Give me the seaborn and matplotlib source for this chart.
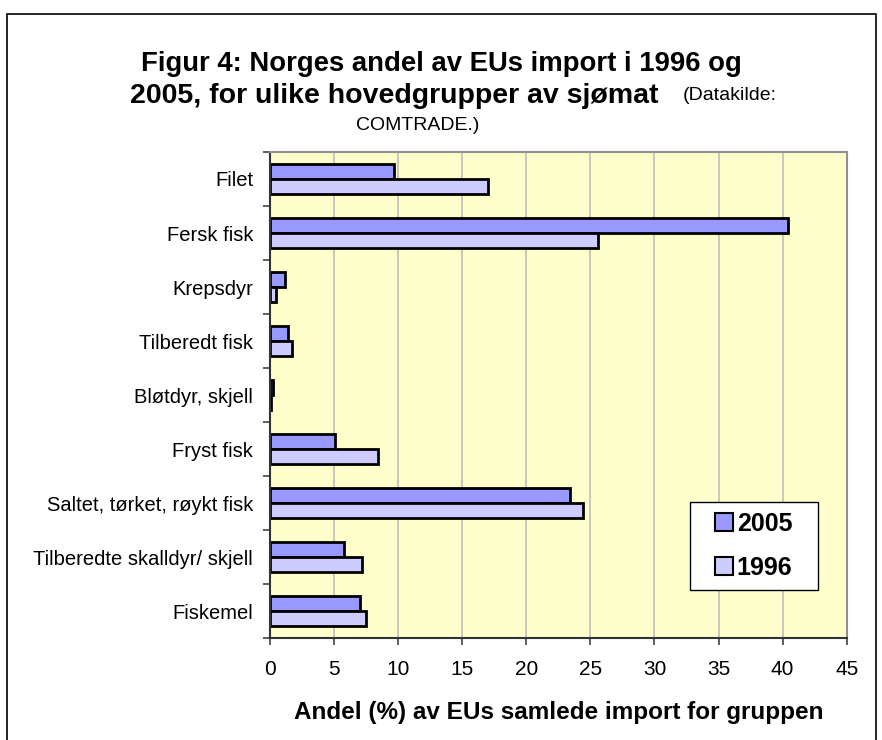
import pandas as pd
import numpy as np
import matplotlib
matplotlib.use("Agg")
import matplotlib.pyplot as plt
import seaborn as sns
from matplotlib.patches import Rectangle

# data
kategorier = ["Filet", "Fersk fisk", "Krepsdyr", "Tilberedt fisk", "Bløtdyr, skjell",
              "Fryst fisk", "Saltet, tørket, røykt fisk", "Tilberedte skalldyr/ skjell", "Fiskemel"]
andel_2005 = [9.7, 40.4, 1.2, 1.4, 0.25, 5.1, 23.4, 5.75, 7.0]
andel_1996 = [17.0, 25.6, 0.5, 1.7, 0.05, 8.4, 24.4, 7.15, 7.5]
aar = ["2005", "1996"]
farger = {"2005": "#9999FF", "1996": "#CCCCFF"}
xticks = list(range(0, 50, 5))

df = pd.DataFrame({
    "kategori": kategorier * 2,
    "andel": andel_2005 + andel_1996,
    "aar": ["2005"] * len(kategorier) + ["1996"] * len(kategorier),
})

sns.set_theme(style="white")
plt.rcParams['font.family'] = ['Liberation Sans', 'DejaVu Sans']
plt.rcParams['text.color'] = 'black'
plt.rcParams['xtick.color'] = 'black'
plt.rcParams['ytick.color'] = 'black'
plt.rcParams['axes.labelcolor'] = 'black'

fig = plt.figure(figsize=(8.82, 7.4), dpi=100)
ax = fig.add_axes([0.306, 0.1378, 0.654, 0.6568])

sns.barplot(data=df, x="andel", y="kategori", hue="aar", hue_order=aar,
            order=kategorier, palette=farger, orient="h", width=0.56,
            edgecolor="black", linewidth=2, saturation=1, ax=ax)

ax.set_facecolor("#FFFFCC")
ax.set_xlim(0, 45)
ax.set_ylim(len(kategorier) - 0.5, -0.5)
ax.set_xticks(xticks)
ax.xaxis.grid(True, color="#BDBDBD", linewidth=1.2)
ax.set_axisbelow(True)

# ticks between categories, labels centred
ax.set_yticks(np.arange(len(kategorier)))
ax.set_yticklabels(kategorier)
ax.set_yticks(np.arange(-0.5, len(kategorier)), minor=True)
ax.tick_params(axis="y", which="major", length=0, pad=12, labelsize=14.5)
ax.tick_params(axis="y", which="minor", length=5, width=1.2, color="#444444", left=True)
ax.tick_params(axis="x", which="major", length=5, width=1.2, color="#444444", bottom=True,
               labelsize=15, pad=11)

for s in ["top", "right"]:
    ax.spines[s].set_color("#909090")
    ax.spines[s].set_linewidth(1.5)
for s in ["left", "bottom"]:
    ax.spines[s].set_color("#333333")
    ax.spines[s].set_linewidth(1.5)

ax.set_ylabel("")
ax.set_xlabel("Andel (%) av EUs samlede import for gruppen", fontsize=17.5,
              fontweight="bold", labelpad=16)

# legend: white box drawn separately, entries centred inside it
ax.add_patch(Rectangle((0.728, 0.099), 0.222, 0.181, transform=ax.transAxes,
                       facecolor="white", edgecolor="black", linewidth=1.0, zorder=4))
leg = ax.legend(loc="center", bbox_to_anchor=(0.839, 0.19), frameon=False,
                prop={"size": 18, "weight": "bold"}, handlelength=0.7, handleheight=0.7,
                handletextpad=0.15, labelspacing=0.8, borderpad=0, borderaxespad=0)
leg.set_zorder(5)
for h in leg.legend_handles:
    h.set_edgecolor("black")
    h.set_linewidth(1.5)

# title in three lines
H = 740.0
fig.text(0.5, 1 - 64 / H, "Figur 4: Norges andel av EUs import i 1996 og", ha="center",
         va="center", fontsize=19.8, fontweight="bold")
fig.text(130 / 882, 1 - 96 / H, "2005, for ulike hovedgrupper av sjømat", ha="left",
         va="center", fontsize=20.5, fontweight="bold")
fig.text(683 / 882, 1 - 96 / H, "(Datakilde:", ha="left", va="center", fontsize=14)
fig.text(418 / 882, 1 - 126 / H, "COMTRADE.)", ha="center", va="center", fontsize=14)

# outer chart border
fig.patches.append(Rectangle((7 / 882, -0.01), 869 / 882, 1 - 14 / H + 0.01,
                             transform=fig.transFigure, fill=False,
                             edgecolor="black", linewidth=1.2))

fig.savefig("out.png", dpi=100)
